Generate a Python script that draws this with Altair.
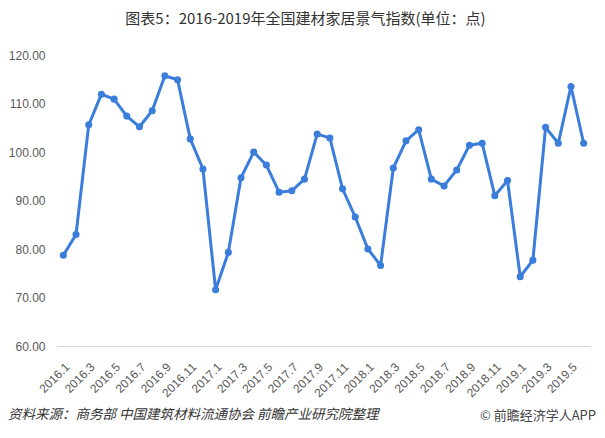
import altair as alt
import pandas as pd

months = [f"{y}.{m}" for y in (2016, 2017, 2018) for m in range(1, 13)] + [f"2019.{m}" for m in range(1, 7)]
values = [78.7, 83.0, 105.6, 111.9, 110.9, 107.4, 105.2, 108.5, 115.7, 114.9, 102.7, 96.5,
          71.6, 79.3, 94.7, 100.0, 97.3, 91.7, 92.0, 94.4, 103.7, 102.9, 92.4, 86.6,
          80.0, 76.6, 96.7, 102.3, 104.6, 94.4, 93.0, 96.3, 101.4, 101.8, 91.0, 94.1,
          74.3, 77.7, 105.1, 101.8, 113.5, 101.8]
tick_labels = months[::2]

title_text = "图表5：2016-2019年全国建材家居景气指数(单位：点)"
source_text = "资料来源：商务部 中国建筑材料流通协会 前瞻产业研究院整理"
brand_text = "© 前瞻经济学人APP"

df = pd.DataFrame({"month": months, "value": values})

color = "#3A7DDA"

x = alt.X("month:O", sort=months, title=None,
          scale=alt.Scale(type="point", padding=0.5),
          axis=alt.Axis(values=tick_labels, labelAngle=-45, labelFontSize=12,
                        labelColor="#595959", labelFont="Liberation Sans",
                        ticks=False, domain=True, domainColor="#d9d9d9",
                        labelPadding=15, grid=False))
y = alt.Y("value:Q", title=None,
          scale=alt.Scale(domain=[60, 120], nice=False, zero=False),
          axis=alt.Axis(values=[60, 70, 80, 90, 100, 110, 120], format=".2f",
                        labelFontSize=12, labelColor="#595959", labelFont="Liberation Sans",
                        ticks=False, domain=False, grid=False, labelPadding=12))

line = alt.Chart(df).mark_line(color=color, strokeWidth=3, point=alt.OverlayMarkDef(color=color, size=50, filled=True, opacity=1)).encode(x=x, y=y)

src = alt.Chart(pd.DataFrame({"t": [source_text]})).mark_text(
    align="left", baseline="middle", fontSize=13.5, fontStyle="italic", color="#333333",
    font="Noto Sans CJK SC").encode(text="t:N", x=alt.value(-49), y=alt.value(360))
brand = alt.Chart(pd.DataFrame({"t": [brand_text]})).mark_text(
    align="right", baseline="middle", fontSize=13, color="#444444",
    font="Noto Sans CJK SC").encode(text="t:N", x=alt.value(539), y=alt.value(361))

chart = alt.layer(line, src, brand).properties(
    width=533, height=291,
    title=alt.TitleParams(title_text, fontSize=15, color="#333333", font="Noto Sans CJK SC",
                          fontWeight="normal", anchor="middle", dx=-18, offset=22),
    autosize=alt.AutoSizeParams(type="none"),
    padding={"left": 49, "top": 47, "right": 7, "bottom": 84},
).configure_view(stroke=None)

chart.save("out.html", embed_options={"renderer": "svg", "actions": False})
